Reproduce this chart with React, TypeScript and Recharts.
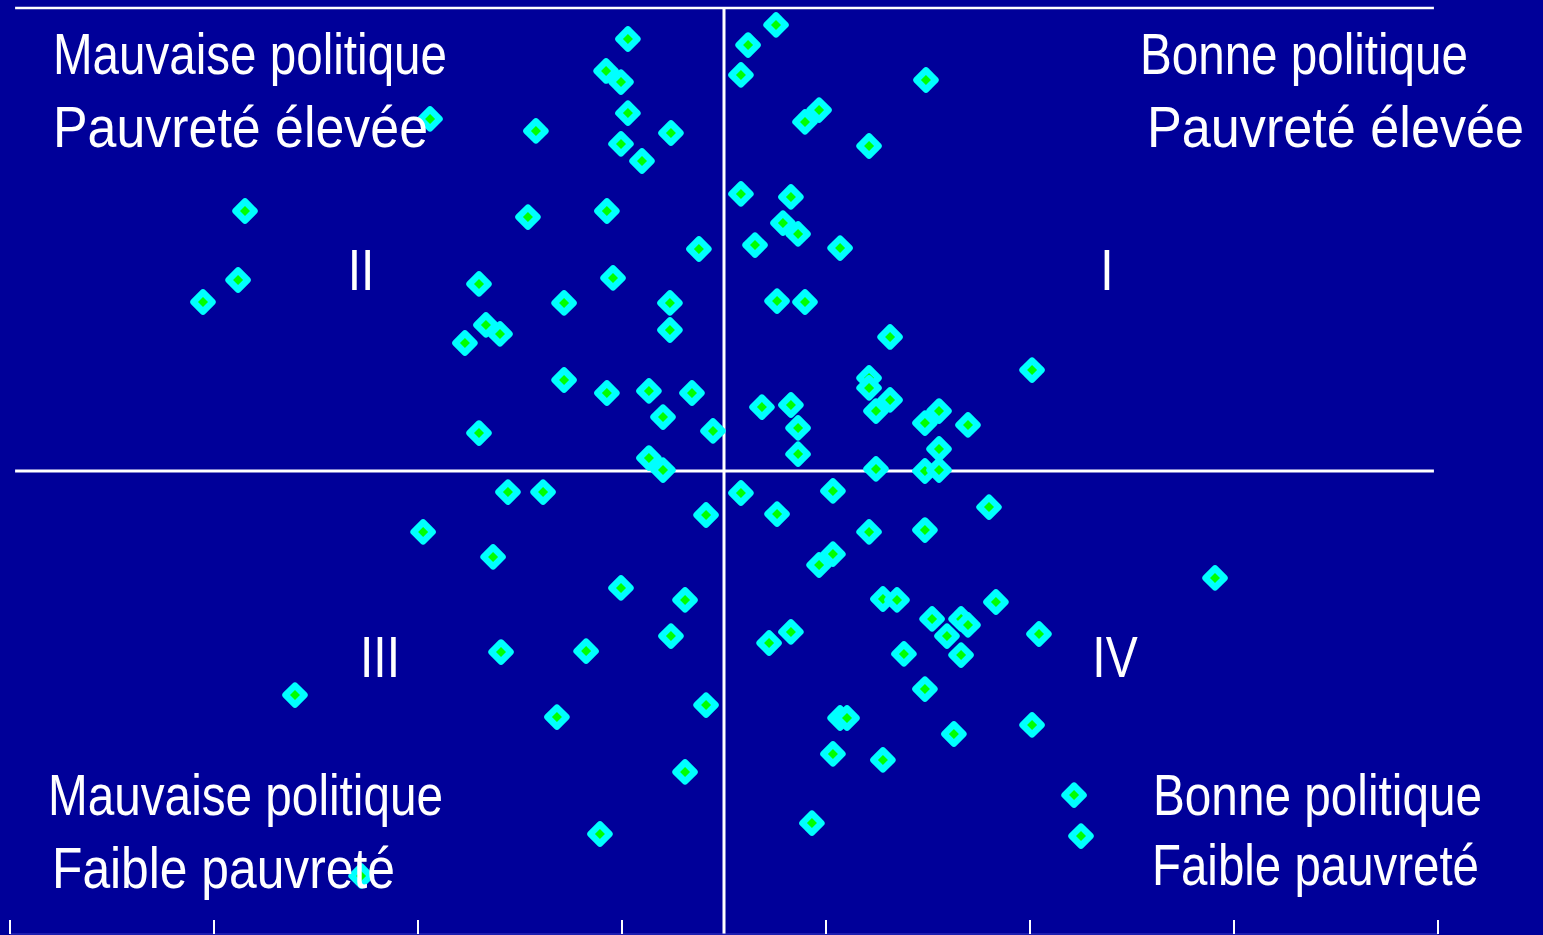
import { ScatterChart, Scatter, XAxis, YAxis, ReferenceLine } from "recharts";

// policy score (x) / poverty score (y), by quadrant
const quadrantI: [number, number][] = [
  [0.255, 1.927], [0.118, 1.84], [0.083, 1.711], [0.99, 1.689], [0.466, 1.559],
  [0.397, 1.508], [0.711, 1.404], [0.083, 1.197], [0.328, 1.184], [0.289, 1.071],
  [0.363, 1.024], [0.152, 0.976], [0.569, 0.963], [0.26, 0.734], [0.397, 0.73],
  [0.814, 0.579], [1.51, 0.436], [0.711, 0.402], [0.711, 0.359], [0.814, 0.307],
  [0.745, 0.259], [0.186, 0.276], [0.328, 0.285], [1.054, 0.259], [0.985, 0.207],
  [1.196, 0.199], [0.363, 0.186], [1.054, 0.095], [0.363, 0.073], [0.745, 0.009],
  [0.985, 0.0], [1.054, 0.004],
];

const quadrantII: [number, number][] = [
  [-0.471, 1.866], [-0.578, 1.728], [-0.505, 1.68], [-1.441, 1.521], [-0.471, 1.546],
  [-0.922, 1.469], [-0.26, 1.46], [-0.505, 1.413], [-0.402, 1.339], [-2.348, 1.123],
  [-0.961, 1.097], [-0.574, 1.123], [-0.123, 0.959], [-2.382, 0.825], [-0.544, 0.834],
  [-1.201, 0.808], [-2.554, 0.73], [-0.784, 0.726], [-0.265, 0.726], [-1.167, 0.631],
  [-1.098, 0.592], [-1.27, 0.553], [-0.265, 0.609], [-0.784, 0.393], [-0.574, 0.337],
  [-0.368, 0.346], [-0.157, 0.337], [-0.299, 0.233], [-1.201, 0.164], [-0.054, 0.173],
  [-0.368, 0.056], [-0.299, 0.004],
];

const quadrantIII: [number, number][] = [
  [-1.059, -0.091], [-0.887, -0.091], [-0.088, -0.19], [-1.475, -0.263], [-1.132, -0.371],
  [-0.505, -0.505], [-0.191, -0.557], [-0.26, -0.713], [-1.093, -0.782], [-0.676, -0.778],
  [-2.103, -0.968], [-0.819, -1.063], [-0.088, -1.011], [-0.191, -1.3], [-0.608, -1.568],
  [-1.779, -1.749],
];

const quadrantIV: [number, number][] = [
  [0.083, -0.095], [0.534, -0.086], [1.299, -0.156], [0.26, -0.186], [0.711, -0.263],
  [0.985, -0.255], [0.534, -0.359], [0.466, -0.406], [2.407, -0.462], [0.779, -0.553],
  [0.848, -0.557], [1.333, -0.566], [1.02, -0.639], [1.162, -0.639], [1.196, -0.665],
  [0.328, -0.695], [0.221, -0.743], [1.544, -0.704], [1.093, -0.713], [0.882, -0.79],
  [1.162, -0.795], [0.985, -0.942], [0.569, -1.067], [0.603, -1.067], [1.51, -1.097],
  [1.127, -1.136], [0.534, -1.222], [0.779, -1.248], [0.431, -1.521], [1.716, -1.4],
  [1.75, -1.577],
];

const xTicks = [-3.5, -2.5, -1.5, -0.5, 0.5, 1.5, 2.5, 3.5];

const data = [...quadrantII, ...quadrantI, ...quadrantIII, ...quadrantIV].map(
  ([policy, poverty]) => ({ policy, poverty })
);

const BG = "#000099";
const FONT = "'Liberation Sans', Arial, sans-serif";
// narrow-looking text: smaller font stretched vertically
const FS = 48;
const SY = 57 / 48;

const Diamond = (props: any) => {
  const { cx, cy } = props;
  if (cx == null || cy == null) return null;
  const g = 5;
  return (
    <g>
      <rect
        x={cx - 10}
        y={cy - 10}
        width={20}
        height={20}
        rx={3.5}
        fill="#00ffff"
        transform={`rotate(45 ${cx} ${cy})`}
      />
      <polygon
        points={`${cx},${cy - g} ${cx + g},${cy} ${cx},${cy + g} ${cx - g},${cy}`}
        fill="#00ff00"
      />
    </g>
  );
};

const labels = [
  { text: "Mauvaise politique", x: 53, y: 74, w: 394 },
  { text: "Pauvreté élevée", x: 53, y: 147, w: 375 },
  { text: "Bonne politique", x: 1140, y: 74, w: 328 },
  { text: "Pauvreté élevée", x: 1147, y: 147, w: 377 },
  { text: "Mauvaise politique", x: 48, y: 815, w: 395 },
  { text: "Faible pauvreté", x: 52, y: 888, w: 343 },
  { text: "Bonne politique", x: 1153, y: 815, w: 329 },
  { text: "Faible pauvreté", x: 1152, y: 885, w: 327 },
];

// x is the centre of each numeral
const numerals = [
  { text: "II", x: 361, y: 290 },
  { text: "I", x: 1107, y: 290 },
  { text: "III", x: 380, y: 677 },
  { text: "IV", x: 1115, y: 677 },
];

const NoLabel = () => <g />;

export default function App() {
  return (
    <div
      style={{
        position: "absolute",
        left: 0,
        top: 0,
        width: 1543,
        height: 935,
        background: BG,
        overflow: "hidden",
      }}
    >
      <ScatterChart
        width={1543}
        height={935}
        margin={{ top: 8, right: 105, bottom: 1, left: 10 }}
      >
        <XAxis
          type="number"
          dataKey="policy"
          domain={[-3.5, 3.5]}
          ticks={xTicks}
          interval={0}
          mirror
          height={1}
          tick={NoLabel}
          tickSize={14}
          tickLine={{ stroke: "#ffffff", strokeWidth: 2 }}
          axisLine={{ stroke: "#3b3bc4", strokeWidth: 1 }}
        />
        <YAxis type="number" dataKey="poverty" domain={[-2, 2]} hide />
        <ReferenceLine
          segment={[
            { x: -3.475, y: 2 },
            { x: 3.48, y: 2 },
          ]}
          stroke="#ffffff"
          strokeWidth={2.5}
        />
        <ReferenceLine
          segment={[
            { x: -3.475, y: 0 },
            { x: 3.48, y: 0 },
          ]}
          stroke="#ffffff"
          strokeWidth={3}
        />
        <ReferenceLine x={0} stroke="#ffffff" strokeWidth={3} />
        <Scatter data={data} shape={Diamond} isAnimationActive={false} />
      </ScatterChart>
      <svg
        width={1543}
        height={935}
        style={{ position: "absolute", left: 0, top: 0, pointerEvents: "none" }}
      >
        {labels.map((l, i) => (
          <text
            key={i}
            x={0}
            y={0}
            transform={`translate(${l.x} ${l.y}) scale(1 ${SY})`}
            fill="#ffffff"
            fontSize={FS}
            fontFamily={FONT}
            textLength={l.w}
            lengthAdjust="spacingAndGlyphs"
          >
            {l.text}
          </text>
        ))}
        {numerals.map((n, i) => (
          <text
            key={"n" + i}
            x={0}
            y={0}
            transform={`translate(${n.x} ${n.y}) scale(1 ${SY})`}
            fill="#ffffff"
            fontSize={FS}
            fontFamily={FONT}
            textAnchor="middle"
          >
            {n.text}
          </text>
        ))}
      </svg>
    </div>
  );
}
